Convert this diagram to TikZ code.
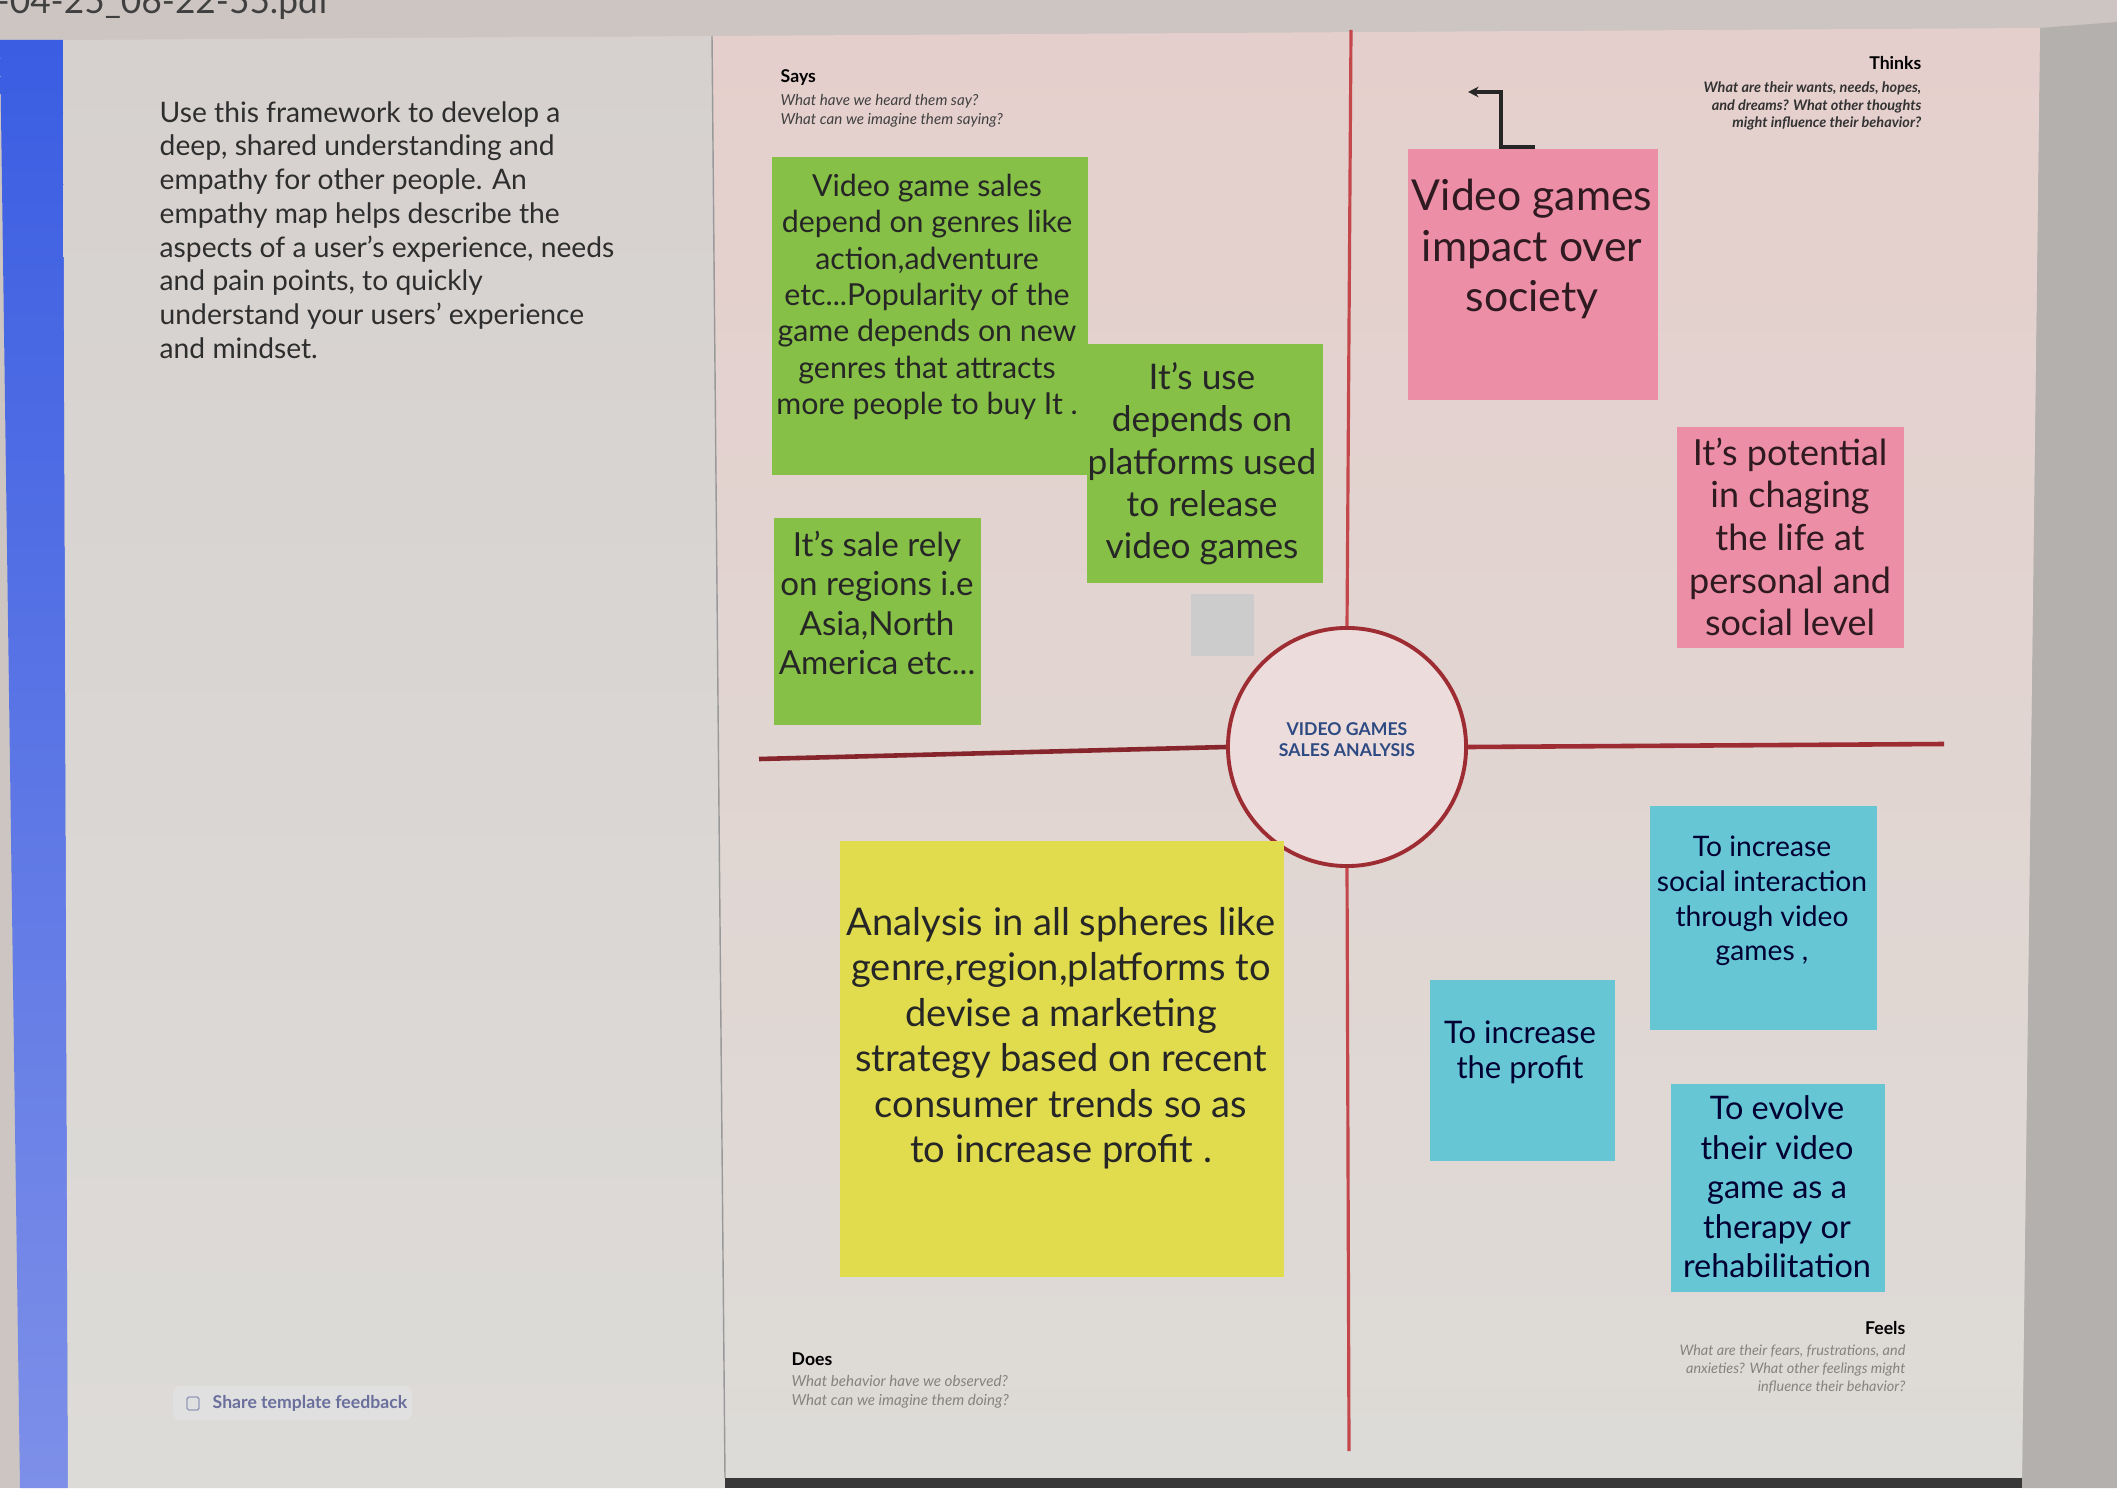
\documentclass[tikz,border=0pt]{standalone}
\usepackage{fontspec}
\setmainfont{Lato}
\usetikzlibrary{arrows.meta}
\definecolor{bandgray}{HTML}{CCC5C2}
\definecolor{sidegray}{HTML}{B4B0AE}
\definecolor{bluetop}{HTML}{3A5DE2}
\definecolor{bluebot}{HTML}{7D8FE8}
\definecolor{paneltop}{HTML}{D6D1CF}
\definecolor{panelbot}{HTML}{DDDBD8}
\definecolor{boardtop}{HTML}{E5CFCC}
\definecolor{boardbot}{HTML}{DDDBD7}
\definecolor{axisred}{HTML}{C4474C}
\definecolor{ringred}{HTML}{9E2C33}
\definecolor{hubfill}{HTML}{EDDCDC}
\definecolor{notegreen}{HTML}{86C046}
\definecolor{notepink}{HTML}{EC8FA6}
\definecolor{noteyellow}{HTML}{E1DC4E}
\definecolor{notecyan}{HTML}{66C6D4}
\definecolor{inkdark}{HTML}{262626}
\definecolor{inkpink}{HTML}{2E1A20}
\definecolor{inkgray}{HTML}{85827F}
\definecolor{hubblue}{HTML}{2E4A82}
\definecolor{feedink}{HTML}{6A6F9C}
\tikzset{
  notetext/.style={align=center, text=inkdark, inner sep=0pt},
  hint/.style={inner sep=0pt, font=\fontsize{4.3pt}{5.3pt}\selectfont\itshape},
  hinthead/.style={inner sep=0pt, font=\fontsize{5pt}{6pt}\selectfont\bfseries},
}
\begin{document}
\begin{tikzpicture}[x=0.2835pt, y=-0.2835pt]
\useasboundingbox (0,0) rectangle (2117,1488);
% backdrop, side strip and top band
\fill[bandgray] (0,0) rectangle (2117,1488);
\fill[sidegray] (2040,28) -- (2117,22) -- (2117,1488) -- (2022,1488) -- cycle;
\node[anchor=base west, inner sep=0pt, text=black!75, font=\fontsize{10pt}{12pt}\selectfont] (file) at (-4,14) {-04-25\_06-22-55.pdf};
% blue sidebar
\shade[top color=bluetop, bottom color=bluebot] (0,40) -- (63,40) -- (68,1488) -- (20,1488) -- cycle;
% left instructions panel
\shade[top color=paneltop, bottom color=panelbot] (63,40) -- (712,36) -- (725,1488) -- (68,1488) -- cycle;
% board
\shade[top color=boardtop, bottom color=boardbot] (712,36) -- (2040,28) -- (2022,1478) -- (725,1478) -- cycle;
\fill[black!78] (725,1478) -- (2022,1478) -- (2022,1488) -- (725,1488) -- cycle;
\draw[black!40, line width=0.4pt] (712,36) -- (725,1478);

% instructions
\node[anchor=west, align=left, inner sep=0pt, text=black!82, font=\fontsize{8pt}{9.57pt}\selectfont] (intro) at (159,230)
 {Use this framework to develop a\\deep, shared understanding and\\empathy for other people. An\\empathy map helps describe the\\aspects of a user's experience, needs\\and pain points, to quickly\\understand your users' experience\\and mindset.};
\fill[black!12, rounded corners=2pt] (173,1386) rectangle (412,1420);
\draw[feedink!70, line width=0.4pt, rounded corners=0.5pt] (187,1397) rectangle (199,1410);
\node[anchor=west, inner sep=0pt, text=feedink, font=\fontsize{5pt}{6pt}\selectfont\bfseries] (feedback) at (212,1403) {Share template feedback};

% quadrant axes and hub
\node[circle, draw=ringred, line width=1.1pt, fill=hubfill, minimum size=67.5pt, inner sep=0pt] (hub) at (1347,747) {};
\node[align=center, inner sep=0pt, text=hubblue, font=\fontsize{5pt}{6pt}\selectfont\bfseries] (hubtxt) at (1347,740) {VIDEO GAMES\\SALES ANALYSIS};
\coordinate (vtop) at (1351,30);
\coordinate (vbot) at (1349,1451);
\coordinate (hleft) at (759,759);
\coordinate (hright) at (1944,744);
\draw[axisred, line width=0.9pt] (vtop) -- (hub.north);
\draw[axisred, line width=0.9pt] (hub.south) -- (vbot);
\draw[ringred!85!black, line width=1.3pt] (hleft) -- (hub.west);
\draw[ringred, line width=1.3pt] (hub.east) -- (hright);

% quadrant labels
\node[hinthead, anchor=west] (says) at (780,78) {Says};
\node[hint, anchor=west, align=left, text=black!75] (sayshint) at (780,111) {What have we heard them say?\\What can we imagine them saying?};
\node[hinthead, anchor=east] (thinks) at (1922,63) {Thinks};
\node[hint, anchor=east, align=right, text=black!80, font=\fontsize{4.1pt}{4.9pt}\selectfont\itshape\bfseries] (thinkshint) at (1922,106) {What are their wants, needs, hopes,\\and dreams? What other thoughts\\might influence their behavior?};
\node[hinthead, anchor=west] (does) at (791,1359) {Does};
\node[hint, anchor=west, align=left, text=inkgray] (doeshint) at (791,1392) {What behavior have we observed?\\What can we imagine them doing?};
\node[hinthead, anchor=east] (feels) at (1906,1328) {Feels};
\node[hint, anchor=east, align=right, text=inkgray, font=\fontsize{4.1pt}{5.1pt}\selectfont\itshape] (feelshint) at (1906,1369) {What are their fears, frustrations, and\\anxieties? What other feelings might\\influence their behavior?};

% says notes
\fill[notegreen] (772,157) rectangle (1088,475);
\node[notetext, font=\fontsize{8.6pt}{10.3pt}\selectfont] (salesgenre) at (927,297)
 {Video game sales\\depend on genres like\\action,adventure\\etc...Popularity of the\\game depends on new\\genres that attracts\\more people to buy It .};
\fill[notegreen] (1087,344) rectangle (1323,583);
\node[notetext, font=\fontsize{10pt}{12pt}\selectfont] (platforms) at (1202,464)
 {It's use\\depends on\\platforms used\\to release\\video games};
\fill[notegreen] (774,518) rectangle (981,725);
\node[notetext, font=\fontsize{9.4pt}{11.1pt}\selectfont] (regions) at (877,603)
 {It's sale rely\\on regions i.e\\Asia,North\\America etc...};
\fill[black!20] (1191,594) rectangle (1254,656);

% thinks notes
\coordinate (elbowA) at (1535,147);
\coordinate (elbowB) at (1501,147);
\coordinate (elbowC) at (1501,92);
\coordinate (elbowD) at (1468,92);
\draw[black!85, line width=1.1pt, -{Stealth[length=3pt,width=3pt]}] (elbowA) -- (elbowB) -- (elbowC) -- (elbowD);
\fill[notepink] (1408,149) rectangle (1658,400);
\node[notetext, text=inkpink, font=\fontsize{12.1pt}{14.3pt}\selectfont] (impact) at (1532,249)
 {Video games\\impact over\\society};
\fill[notepink] (1677,427) rectangle (1904,648);
\node[notetext, text=inkpink, font=\fontsize{10.2pt}{12.1pt}\selectfont] (potential) at (1790,537)
 {It's potential\\in chaging\\the life at\\personal and\\social level};

% does note
\fill[noteyellow] (840,841) rectangle (1284,1277);
\node[notetext, font=\fontsize{10.8pt}{12.9pt}\selectfont] (strategy) at (1061,1038)
 {Analysis in all spheres like\\genre,region,platforms to\\devise a marketing\\strategy based on recent\\consumer trends so as\\to increase profit .};

% feels notes
\fill[notecyan] (1650,806) rectangle (1877,1030);
\node[notetext, text=black!80!blue, font=\fontsize{8pt}{9.8pt}\selectfont] (social) at (1762,901)
 {To increase\\social interaction\\through video\\games ,};
\fill[notecyan] (1430,980) rectangle (1615,1161);
\node[notetext, text=black!80!blue, font=\fontsize{8.8pt}{9.95pt}\selectfont] (profit) at (1520,1052)
 {To increase\\the profit};
\fill[notecyan] (1671,1084) rectangle (1885,1292);
\node[notetext, text=black!80!blue, font=\fontsize{9.2pt}{11.2pt}\selectfont] (therapy) at (1777,1187)
 {To evolve\\their video\\game as a\\therapy or\\rehabilitation};
\end{tikzpicture}
\end{document}
